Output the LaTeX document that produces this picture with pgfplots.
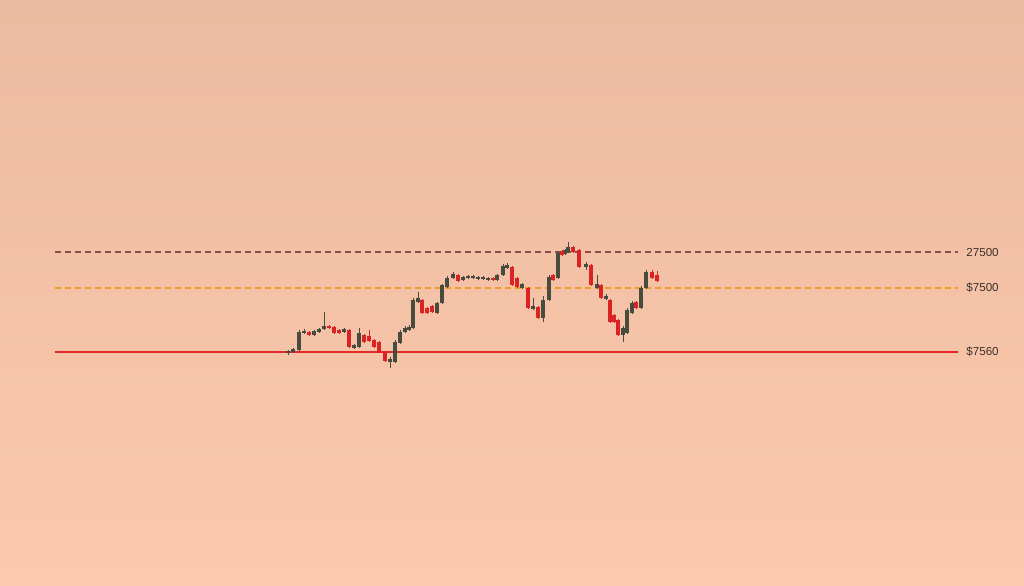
\documentclass[border=0pt]{standalone}
\usepackage{fontspec}
\setmainfont{Liberation Sans}
\usepackage{pgfplots}
\usepackage{pgfplotstable}
\pgfplotsset{compat=1.18}

\definecolor{bgtop}{RGB}{236,186,160}
\definecolor{bgbot}{RGB}{252,201,172}
\definecolor{bull}{RGB}{72,76,62}
\definecolor{bear}{RGB}{218,36,36}
\definecolor{resist}{RGB}{140,80,72}
\definecolor{midline}{RGB}{238,158,40}
\definecolor{support}{RGB}{226,40,40}
\definecolor{lbl}{RGB}{60,50,45}

% candles in pixel rows (y grows downwards): x, body top, body bottom, high, low
\pgfplotstableread{
x   t   b   h   l
288 351 353 350 355
293 349 352 348 353
299 332 350 330 351
304 331 333 329 334
314 331 335 330 336
319 329 332 328 333
324 326 329 312 330
344 329 332 328 333
354 345 348 344 349
359 333 347 328 348
390 359 362 357 368
395 342 362 340 363
400 332 343 330 344
405 328 332 326 333
409 327 330 325 331
413 300 328 298 329
418 298 302 292 303
437 303 313 302 314
442 285 303 284 304
447 278 287 276 288
453 274 278 272 279
463 277 280 276 281
468 276 278 275 279
473 276 278 275 279
478 277 279 276 280
483 277 279 276 280
488 278 280 277 281
497 275 280 274 281
503 266 275 264 276
507 265 268 263 269
522 284 288 283 289
533 306 309 298 310
543 300 318 296 322
549 277 300 275 301
558 253 278 251 279
565 250 254 249 255
568 247 252 242 253
586 264 267 262 270
597 284 288 275 289
606 296 299 294 300
623 328 335 326 342
627 310 333 308 334
632 303 313 301 314
641 288 308 286 309
646 272 288 270 289
}\bulltab

\pgfplotstableread{
x   t   b   h   l
309 332 335 331 336
329 326 328 325 329
334 327 333 326 334
339 330 333 329 334
349 330 347 329 348
364 335 342 334 343
369 336 341 330 342
374 340 347 339 348
379 342 352 341 353
385 352 361 351 362
422 300 313 299 314
427 308 313 307 314
432 306 312 305 313
458 275 281 274 282
493 278 280 277 281
512 267 285 266 286
517 278 287 277 288
528 288 308 287 309
538 307 318 306 319
553 275 280 274 281
562 251 255 250 256
573 247 252 246 253
579 250 267 249 268
591 265 285 264 286
601 285 298 284 299
610 300 322 299 323
614 315 322 314 323
618 320 335 319 336
636 302 308 301 309
652 272 278 270 279
657 275 281 271 282
}\beartab

\begin{document}
\begin{tikzpicture}
\begin{axis}[
  x=0.5pt, y=0.5pt,
  xmin=0, xmax=1024, ymin=0, ymax=585,
  y dir=reverse,
  axis lines=none, ticks=none,
  clip=false,
  axis background/.style={shade, top color=bgtop, bottom color=bgbot},
  candle/.style={draw=none, mark=none, forget plot,
    error bars/y dir=both, error bars/y explicit, error bars/error mark=none},
]
% level lines
\addplot[resist, densely dashed, line width=0.55pt] coordinates {(55,252) (958,252)};
\addplot[midline, densely dashed, line width=0.55pt] coordinates {(55,288) (958,288)};
\addplot[support, line width=0.8pt] coordinates {(55,352) (958,352)};

% wicks
\addplot[candle, error bars/error bar style={line width=0.4pt, bull}]
  table[x=x, y expr=(\thisrow{h}+\thisrow{l})/2, y error expr=(\thisrow{l}-\thisrow{h})/2] {\bulltab};
\addplot[candle, error bars/error bar style={line width=0.4pt, bear}]
  table[x=x, y expr=(\thisrow{h}+\thisrow{l})/2, y error expr=(\thisrow{l}-\thisrow{h})/2] {\beartab};
% bodies
\addplot[candle, error bars/error bar style={line width=2.3pt, bull}]
  table[x=x, y expr=(\thisrow{t}+\thisrow{b})/2, y error expr=(\thisrow{b}-\thisrow{t})/2] {\bulltab};
\addplot[candle, error bars/error bar style={line width=2.3pt, bear}]
  table[x=x, y expr=(\thisrow{t}+\thisrow{b})/2, y error expr=(\thisrow{b}-\thisrow{t})/2] {\beartab};

% price labels
\node[anchor=west, text=lbl, font=\fontsize{5.8}{6}\selectfont, inner sep=0pt] at (axis cs:966,252) {27500};
\node[anchor=west, text=lbl, font=\fontsize{5.8}{6}\selectfont, inner sep=0pt] at (axis cs:966,288) {\$7500};
\node[anchor=west, text=lbl, font=\fontsize{5.8}{6}\selectfont, inner sep=0pt] at (axis cs:966,352) {\$7560};
\end{axis}
\end{tikzpicture}
\end{document}
